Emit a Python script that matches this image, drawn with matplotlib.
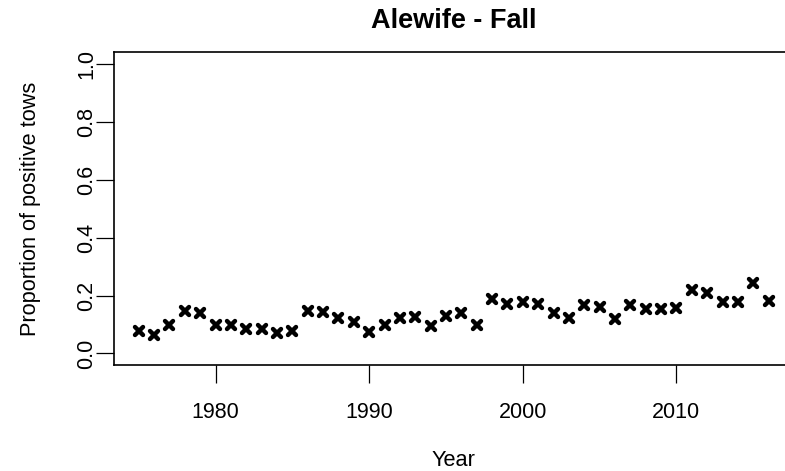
import matplotlib.pyplot as plt
from matplotlib.markers import MarkerStyle

years = list(range(1975, 2017))
proportion = [0.078, 0.063, 0.098, 0.147, 0.140, 0.098, 0.098, 0.084, 0.084, 0.069,
              0.078, 0.147, 0.144, 0.121, 0.109, 0.075, 0.098, 0.123, 0.127, 0.094,
              0.130, 0.138, 0.098, 0.187, 0.170, 0.178, 0.170, 0.140, 0.124, 0.167,
              0.159, 0.119, 0.167, 0.152, 0.152, 0.158, 0.219, 0.207, 0.176, 0.178,
              0.242, 0.182]
x_ticks = [1980, 1990, 2000, 2010]
y_ticks = [0.0, 0.2, 0.4, 0.6, 0.8, 1.0]

plt.rcParams['font.family'] = ['Liberation Sans', 'DejaVu Sans']

fig = plt.figure(figsize=(7.85, 4.71), dpi=100)
# the original plot box runs past the right edge of the image
ax = fig.add_axes([0.1446, 0.2251, 0.8666, 0.6637])

marker = MarkerStyle('x', capstyle='round')
ax.plot(years, proportion, linestyle='none', marker=marker,
        markersize=6, markeredgewidth=3.2, color='black', clip_on=False)

ax.set_xlim(1973.36, 2017.64)
ax.set_ylim(-0.04, 1.04)
ax.set_xticks(x_ticks)
ax.set_yticks(y_ticks)
ax.set_yticklabels([f'{v:.1f}' for v in y_ticks], rotation=90, va='center')

ax.spines['right'].set_visible(False)
for side in ['left', 'top', 'bottom']:
    ax.spines[side].set_linewidth(1.2)
ax.tick_params(axis='both', direction='out', length=12.7, width=0.9,
               labelsize=15.5, color='black')
ax.tick_params(axis='x', pad=14)
ax.tick_params(axis='y', pad=-1)

ax.set_xlabel('Year', fontsize=15.7)
ax.xaxis.set_label_coords(0.5, -0.307)
ax.xaxis.label.set_va('center')
ax.set_ylabel('Proportion of positive tows', fontsize=15.7)
ax.yaxis.set_label_coords(-0.1227, 0.5)
ax.yaxis.label.set_va('center')

ax.set_title('Alewife - Fall', fontsize=19.5, fontweight='bold',
             y=1.1004, va='center', pad=0)

fig.savefig('out.png', dpi=100)
